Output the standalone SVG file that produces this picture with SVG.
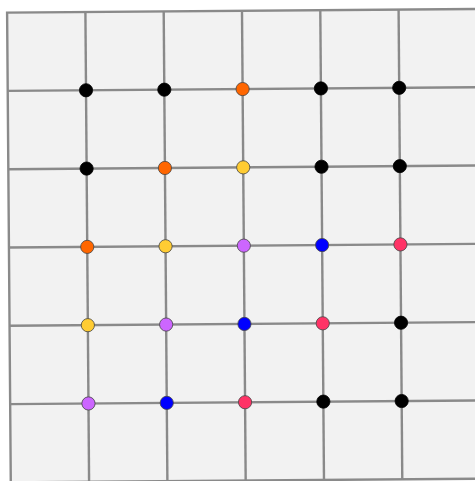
<svg xmlns="http://www.w3.org/2000/svg" width="475" height="481" viewBox="0 0 475 481">
<style>
.grid line{stroke:#8a8a8a;stroke-width:2.4;}
.n circle{stroke:#444;stroke-width:0.8;}
.k{fill:#000;stroke:#000 !important;}
.o{fill:#ff6600;}
.y{fill:#ffcc33;}
.v{fill:#cc66ff;}
.b{fill:#0000ff;}
.p{fill:#ff3366;}
</style>
<rect width="475" height="481" fill="#ffffff"/>
<g transform="translate(7.1,12.6) rotate(-0.45)">
<rect x="0" y="0" width="469.8" height="469.8" fill="#f2f2f2" stroke="#8a8a8a" stroke-width="2.4"/>
<g id="connectors" class="grid">
<line x1="78.3" y1="0" x2="78.3" y2="469.8"/>
<line x1="156.6" y1="0" x2="156.6" y2="469.8"/>
<line x1="234.9" y1="0" x2="234.9" y2="469.8"/>
<line x1="313.2" y1="0" x2="313.2" y2="469.8"/>
<line x1="391.5" y1="0" x2="391.5" y2="469.8"/>
<line x1="0" y1="78.3" x2="469.8" y2="78.3"/>
<line x1="0" y1="156.6" x2="469.8" y2="156.6"/>
<line x1="0" y1="234.9" x2="469.8" y2="234.9"/>
<line x1="0" y1="313.2" x2="469.8" y2="313.2"/>
<line x1="0" y1="391.5" x2="469.8" y2="391.5"/>
</g>
<g class="n">
<g id="n11"><circle class="k" cx="78.3" cy="78.3" r="6.6"/></g>
<g id="n12"><circle class="k" cx="156.6" cy="78.3" r="6.6"/></g>
<g id="n13"><circle class="o" cx="234.9" cy="78.3" r="6.6"/></g>
<g id="n14"><circle class="k" cx="313.2" cy="78.3" r="6.6"/></g>
<g id="n15"><circle class="k" cx="391.5" cy="78.3" r="6.6"/></g>
<g id="n21"><circle class="k" cx="78.3" cy="156.6" r="6.6"/></g>
<g id="n22"><circle class="o" cx="156.6" cy="156.6" r="6.6"/></g>
<g id="n23"><circle class="y" cx="234.9" cy="156.6" r="6.6"/></g>
<g id="n24"><circle class="k" cx="313.2" cy="156.6" r="6.6"/></g>
<g id="n25"><circle class="k" cx="391.5" cy="156.6" r="6.6"/></g>
<g id="n31"><circle class="o" cx="78.3" cy="234.9" r="6.6"/></g>
<g id="n32"><circle class="y" cx="156.6" cy="234.9" r="6.6"/></g>
<g id="n33"><circle class="v" cx="234.9" cy="234.9" r="6.6"/></g>
<g id="n34"><circle class="b" cx="313.2" cy="234.9" r="6.6"/></g>
<g id="n35"><circle class="p" cx="391.5" cy="234.9" r="6.6"/></g>
<g id="n41"><circle class="y" cx="78.3" cy="313.2" r="6.6"/></g>
<g id="n42"><circle class="v" cx="156.6" cy="313.2" r="6.6"/></g>
<g id="n43"><circle class="b" cx="234.9" cy="313.2" r="6.6"/></g>
<g id="n44"><circle class="p" cx="313.2" cy="313.2" r="6.6"/></g>
<g id="n45"><circle class="k" cx="391.5" cy="313.2" r="6.6"/></g>
<g id="n51"><circle class="v" cx="78.3" cy="391.5" r="6.6"/></g>
<g id="n52"><circle class="b" cx="156.6" cy="391.5" r="6.6"/></g>
<g id="n53"><circle class="p" cx="234.9" cy="391.5" r="6.6"/></g>
<g id="n54"><circle class="k" cx="313.2" cy="391.5" r="6.6"/></g>
<g id="n55"><circle class="k" cx="391.5" cy="391.5" r="6.6"/></g>
</g>
</g>
</svg>
